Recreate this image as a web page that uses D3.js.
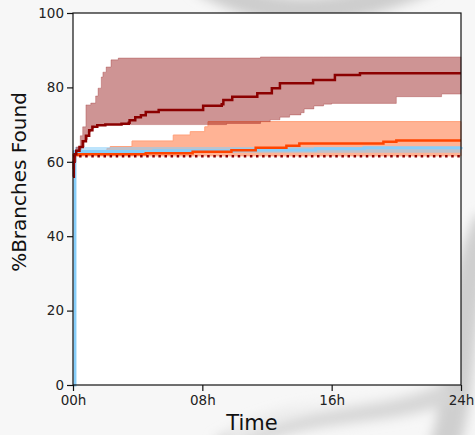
<!DOCTYPE html>
<html>
<head>
<meta charset="utf-8">
<script src="https://cdn.jsdelivr.net/npm/d3@7"></script>
<style>
  body { margin: 0; background: #f7f7f7; }
  svg { display: block; font-family: "DejaVu Sans", sans-serif; }
</style>
</head>
<body>
<div class="chart"></div>
<script>
var svgWidth = 475;
var svgHeight = 435;

// plot box
var margin = { top: 13, right: 14, bottom: 50, left: 73 };
var width = svgWidth - margin.left - margin.right;
var height = svgHeight - margin.top - margin.bottom;

// data: [hours, % branches]
var darkRedMedian = [[0, 56], [0.05, 60], [0.1, 62], [0.2, 63], [0.4, 64], [0.6, 65.5], [0.8, 67], [1.0, 68.5],
  [1.2, 69.4], [1.5, 69.8], [2.0, 70], [3.0, 70.2], [3.45, 70.5], [3.5, 71.2], [3.85, 72], [4.2, 72.5],
  [4.5, 73.4], [5.3, 73.9], [8.05, 75.1], [9.2, 75.5], [9.3, 76.6], [9.85, 77.5], [11.4, 78.4],
  [12.3, 79.8], [12.8, 81.1], [14.85, 82], [16.2, 83.3], [17.75, 83.8], [24, 83.8]];
var darkRedUpper = [[0, 63], [0.2, 64], [0.45, 67], [0.6, 69.4], [0.8, 75.3], [1.1, 75.8], [1.4, 77.7], [1.55, 79.8],
  [1.75, 82.8], [1.85, 84.1], [2.05, 85.5], [2.35, 87.4], [2.8, 87.9], [11.5, 87.9], [11.6, 88.2], [24, 88.2]];
var darkRedLower = [[0, 60], [0.2, 62], [0.5, 64], [0.7, 66], [0.9, 68], [1.1, 69], [1.3, 69.8], [2, 70],
  [9.5, 70.3], [11.6, 70.8], [12.2, 71.3], [12.8, 72], [13.4, 72.6], [14.1, 73.2], [14.3, 74.2],
  [14.9, 75], [15.5, 75.5], [16, 75.7], [20.0, 77.5], [22.8, 78.2], [24, 78.2]];

var orangeMedian = [[0, 58], [0.05, 61.8], [0.3, 62], [4.5, 62.3], [7.4, 62.7], [9.8, 63.1], [11.3, 63.8],
  [13.2, 64.3], [14, 64.9], [19.2, 65.4], [20, 65.7], [24, 65.7]];
var orangeUpper = [[0, 62], [0.3, 63], [2.1, 63.6], [2.3, 64.1], [3.65, 65.6], [6.2, 67.2], [7.25, 68.1],
  [8.15, 69.4], [8.35, 70.8], [24, 70.8]];
var orangeLower = [[0, 61.6], [24, 62.2]];

var blueMedian = [[0, 0], [0.12, 62.8], [5, 63], [10, 63.2], [15, 63.5], [18, 63.8], [24, 64]];
var blueUpper = [[0, 0], [0.12, 64], [24, 64.4]];
var blueLower = [[0, 0], [0.12, 62.4], [24, 62.6]];

var dottedLine = [[0, 61.5], [24, 61.5]];

var yTicks = [0, 20, 40, 60, 80, 100];
var xTicks = [0, 8, 16, 24];
var xTickLabels = ["00h", "08h", "16h", "24h"];

var svg = d3.select(".chart")
  .append("svg")
  .attr("width", svgWidth)
  .attr("height", svgHeight);

// faint grey swooshes in the background
var defs = svg.append("defs");
defs.append("filter").attr("id", "blur")
  .attr("x", "-50%").attr("y", "-50%").attr("width", "200%").attr("height", "200%")
  .append("feGaussianBlur").attr("stdDeviation", 6);
var bg = svg.append("g").attr("filter", "url(#blur)");
bg.append("path").attr("d", "M200,-20 C280,30 360,10 430,-20").attr("fill", "none")
  .attr("stroke", "#cdcdcd").attr("stroke-width", 26);
bg.append("path").attr("d", "M490,220 C450,300 470,380 440,460").attr("fill", "none")
  .attr("stroke", "#cfcfcf").attr("stroke-width", 30);
bg.append("path").attr("d", "M220,450 C300,400 380,420 450,390").attr("fill", "none")
  .attr("stroke", "#d6d6d6").attr("stroke-width", 24);
bg.append("path").attr("d", "M230,440 C310,395 380,410 440,380").attr("fill", "none")
  .attr("stroke", "#f4f4f4").attr("stroke-width", 8);

var chartGroup = svg.append("g")
  .attr("transform", `translate(${margin.left}, ${margin.top})`);

chartGroup.append("rect")
  .attr("width", width).attr("height", height).attr("fill", "white");

var x_scale = d3.scaleLinear().domain([0, 24]).range([0, width]);
var y_scale = d3.scaleLinear().domain([0, 100]).range([height, 0]);

// step along upper/lower bounds with matching time points
function band(upper, lower) {
  var times = Array.from(new Set(upper.map(d => d[0]).concat(lower.map(d => d[0])))).sort((a, b) => a - b);
  function valAt(arr, t) {
    var v = arr[0][1];
    arr.forEach(function (d) { if (d[0] <= t) v = d[1]; });
    return v;
  }
  return times.map(t => ({ t: t, hi: valAt(upper, t), lo: valAt(lower, t) }));
}

var area = d3.area()
  .curve(d3.curveStepAfter)
  .x(d => x_scale(d.t))
  .y0(d => y_scale(d.lo))
  .y1(d => y_scale(d.hi));

var line = d3.line()
  .curve(d3.curveStepAfter)
  .x(d => x_scale(d[0]))
  .y(d => y_scale(d[1]));

var plot = chartGroup.append("g");

// bands
plot.append("path").datum(band(orangeUpper, orangeLower))
  .attr("d", area).attr("fill", "#ffa07a").attr("fill-opacity", 0.8)
  .attr("stroke", "#ffa07a").attr("stroke-width", 1);
plot.append("path").datum(band(blueUpper, blueLower))
  .attr("d", area).attr("fill", "#87cefa").attr("fill-opacity", 0.55);
plot.append("path").datum(band(darkRedUpper, darkRedLower))
  .attr("d", area).attr("fill", "#8b0000").attr("fill-opacity", 0.42)
  .attr("stroke", "#8b0000").attr("stroke-opacity", 0.25).attr("stroke-width", 1);

// median lines
plot.append("path").datum(blueMedian)
  .attr("d", line).attr("fill", "none").attr("stroke", "#87cefa").attr("stroke-width", 3);
plot.append("path").datum(orangeMedian)
  .attr("d", line).attr("fill", "none").attr("stroke", "#ff4500").attr("stroke-width", 2.5);
plot.append("path").datum(darkRedMedian)
  .attr("d", line).attr("fill", "none").attr("stroke", "#8b0000").attr("stroke-width", 2.5);
plot.append("path").datum(dottedLine)
  .attr("d", line).attr("fill", "none").attr("stroke", "#8b0000").attr("stroke-width", 2.5)
  .attr("stroke-dasharray", "2.5,3.6");

// frame
chartGroup.append("rect")
  .attr("width", width).attr("height", height)
  .attr("fill", "none").attr("stroke", "#111").attr("stroke-width", 1.2);

// axes
var bottomAxis = d3.axisBottom(x_scale).tickValues(xTicks)
  .tickFormat((d, i) => xTickLabels[i]).tickSizeOuter(0).tickSize(6).tickPadding(4);
var leftAxis = d3.axisLeft(y_scale).tickValues(yTicks).tickSizeOuter(0).tickSize(6).tickPadding(3);

var xg = chartGroup.append("g")
  .attr("transform", `translate(0, ${height})`)
  .call(bottomAxis);
var yg = chartGroup.append("g").call(leftAxis);

[xg, yg].forEach(function (g) {
  g.select(".domain").remove();
  g.selectAll("line").attr("stroke", "#111").attr("stroke-width", 1.2);
  g.selectAll("text").attr("fill", "#222").style("font-size", "13.5px")
    .style("font-family", "DejaVu Sans, sans-serif");
});

// axis labels
svg.append("text")
  .attr("transform", "translate(26, 182) rotate(-90)")
  .attr("text-anchor", "middle")
  .attr("fill", "#111")
  .style("font-size", "20px")
  .text("%Branches Found");

svg.append("text")
  .attr("x", 252).attr("y", 430)
  .attr("text-anchor", "middle")
  .attr("fill", "#111")
  .style("font-size", "21px")
  .text("Time");
</script>
</body>
</html>
